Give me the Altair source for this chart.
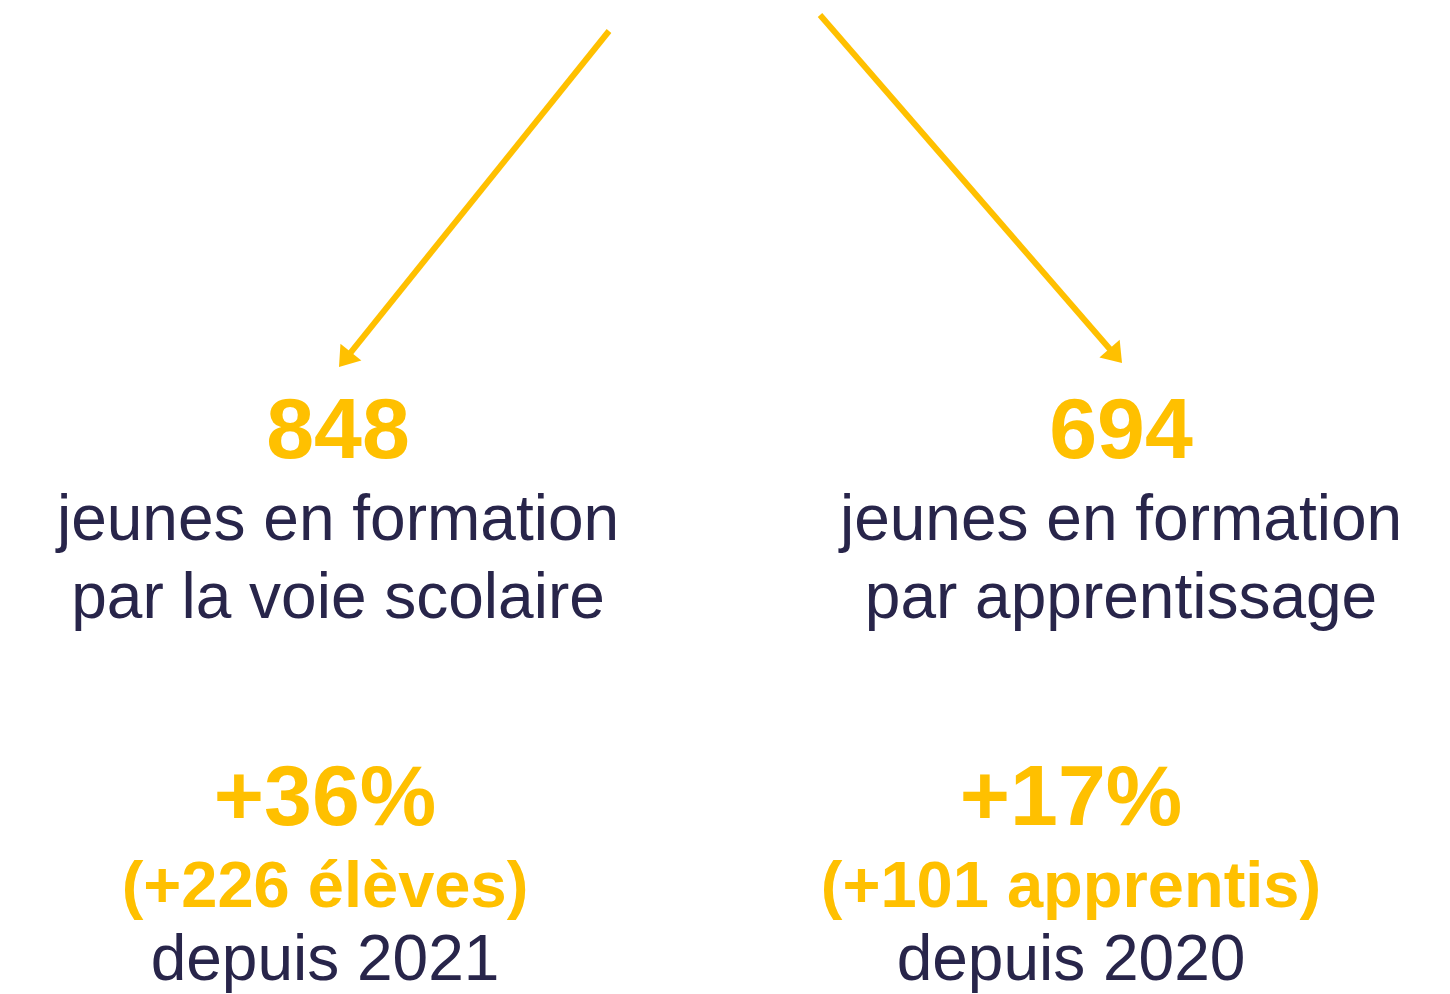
import altair as alt
import pandas as pd
import math

# ---- content ----
numbers = ["848", "694"]
desc_line1 = ["jeunes en formation", "jeunes en formation"]
desc_line2 = ["par la voie scolaire", "par apprentissage"]
growth_pct = ["+36%", "+17%"]
growth_abs = ["(+226 élèves)", "(+101 apprentis)"]
since = ["depuis 2021", "depuis 2020"]

# ---- layout (page pixel coordinates) ----
upper_cx = [338, 1121]
lower_cx = [325, 1071]
arrow_start = [(609, 31), (820, 15)]
arrow_tip = [(339, 367), (1122, 363)]

YELLOW = "#FFC000"
NAVY = "#28254A"
FONT = "Liberation Sans"

xs = alt.Scale(domain=[8, 1442])
ys = alt.Scale(domain=[8, 994], reverse=True)


def text_layer(texts, cx, baseline, size, weight, color):
    df = pd.DataFrame({"t": texts, "x": cx, "y": [baseline] * len(texts)})
    return alt.Chart(df).mark_text(
        font=FONT, fontSize=size, fontWeight=weight, color=color,
        align="center", baseline="alphabetic"
    ).encode(
        x=alt.X("x:Q", scale=xs, axis=None),
        y=alt.Y("y:Q", scale=ys, axis=None),
        text="t:N",
    )


# arrows
HEAD = 19
rows = []
for (sx, sy), (tx, ty) in zip(arrow_start, arrow_tip):
    dx, dy = tx - sx, ty - sy
    L = math.hypot(dx, dy)
    ux, uy = dx / L, dy / L
    ang = math.degrees(math.atan2(ux, -uy)) % 360
    rows.append({"x": sx, "y": sy, "x2": tx - ux * (HEAD - 3), "y2": ty - uy * (HEAD - 3),
                 "tx": tx, "ty": ty, "ang": ang})
adf = pd.DataFrame(rows)

shafts = alt.Chart(adf).mark_rule(color=YELLOW, strokeWidth=6, strokeCap="butt").encode(
    x=alt.X("x:Q", scale=xs, axis=None),
    y=alt.Y("y:Q", scale=ys, axis=None),
    x2="x2:Q",
    y2="y2:Q",
    strokeWidth=alt.value(6),
)
heads = alt.Chart(adf).mark_point(
    shape="M0,0L-1.2,1.7L1.2,1.7Z", filled=True, color=YELLOW, opacity=1, size=500, strokeWidth=0
).encode(
    x=alt.X("tx:Q", scale=xs, axis=None),
    y=alt.Y("ty:Q", scale=ys, axis=None),
    angle=alt.Angle("ang:Q", scale=None),
)

layers = [
    shafts,
    heads,
    text_layer(numbers, upper_cx, 458, 86, "bold", YELLOW),
    text_layer(desc_line1, upper_cx, 540, 64, "normal", NAVY),
    text_layer(desc_line2, upper_cx, 618, 64, "normal", NAVY),
    text_layer(growth_pct, lower_cx, 825, 86, "bold", YELLOW),
    text_layer(growth_abs, lower_cx, 907, 65, "bold", YELLOW),
    text_layer(since, lower_cx, 980, 64, "normal", NAVY),
]

chart = alt.layer(*layers).properties(
    width=1434, height=986, padding=0, autosize=alt.AutoSizeParams(type="none"),
    background="white",
).configure_view(stroke=None)

chart.save("out.html", embed_options={"renderer": "svg", "actions": False})
